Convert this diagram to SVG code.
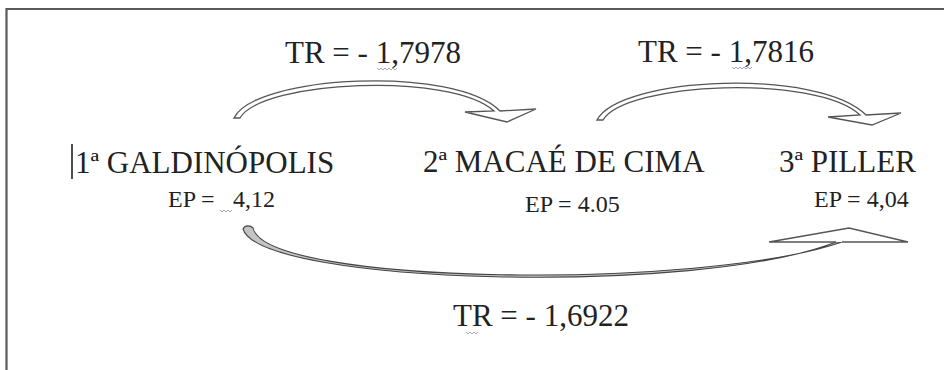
<svg xmlns="http://www.w3.org/2000/svg" width="944" height="370" viewBox="0 0 944 370">
<style>
.t{font-family:"Liberation Serif","Times New Roman",serif;fill:#222}
.big{font-size:31px}
.ep{font-size:24px}
.hollow{fill:#fff;stroke:#555;stroke-width:1.3;stroke-linejoin:miter}
.solid{fill:#c4c4c4;stroke:#444;stroke-width:1.1}
.wave{fill:none;stroke:#8a8fa8;stroke-width:0.8}
</style>
<rect width="944" height="370" fill="#fff"/>
<g id="frame">
<path d="M6.5,370 V9 H944" fill="none" stroke="#5a5a5a" stroke-width="2.2"/>
</g>
<g id="connectors">
<path id="arrow-1-2" class="hollow" d="M234,118 C255,75 455,65 500,111 L536,109 L507,122 L465,112 L494,111 C452,72 262,80 240,118 Z"/>
<path id="arrow-2-3" class="hollow" d="M597,120 C620,76 820,68 866,115 L901,113 L872,125 L828,117 L860,115 C816,74 626,82 603,120 Z"/>
<g id="arrow-1-3">
<path class="solid" d="M243,229 C260,285 700,296 836,242 L842,242 C703,290 266,286 253,228 C250,225 245,225 243,229 Z"/>
<path class="hollow" d="M836,242 L769,242 L849,228 L908,242 L842,242"/>
</g>
</g>
<g id="node-galdinopolis">
<line x1="72" y1="144" x2="72" y2="179" stroke="#222" stroke-width="1.6"/>
<text class="t big" x="75" y="173">1ª GALDINÓPOLIS</text>
<text class="t ep" x="168" y="207">EP =<tspan x="233">4,12</tspan></text>
<path class="wave" d="M220,210 l2,2 l2,-2 l2,2 l2,-2 l2,2 l2,-2"/>
</g>
<g id="node-macae">
<text class="t big" x="423" y="172">2ª MACAÉ DE CIMA</text>
<text class="t ep" x="525" y="212">EP = 4.05</text>
</g>
<g id="node-piller">
<text class="t big" x="779" y="172">3ª PILLER</text>
<text class="t ep" x="814" y="207">EP = 4,04</text>
</g>
<g id="labels">
<text class="t big" x="285" y="63">TR = - 1,7978</text>
<path class="wave" d="M377,68 l2,2 l2,-2 l2,2 l2,-2 l2,2 l2,-2 l2,2 l2,-2 l2,2 l2,-2"/>
<text class="t big" x="638" y="62">TR = - 1,7816</text>
<path class="wave" d="M732,67 l2,2 l2,-2 l2,2 l2,-2 l2,2 l2,-2 l2,2 l2,-2 l2,2 l2,-2"/>
<text class="t big" x="453" y="326">TR = - 1,6922</text>
<path class="wave" d="M466,332 l2,2 l2,-2 l2,2 l2,-2 l2,2 l2,-2"/>
</g>
</svg>
